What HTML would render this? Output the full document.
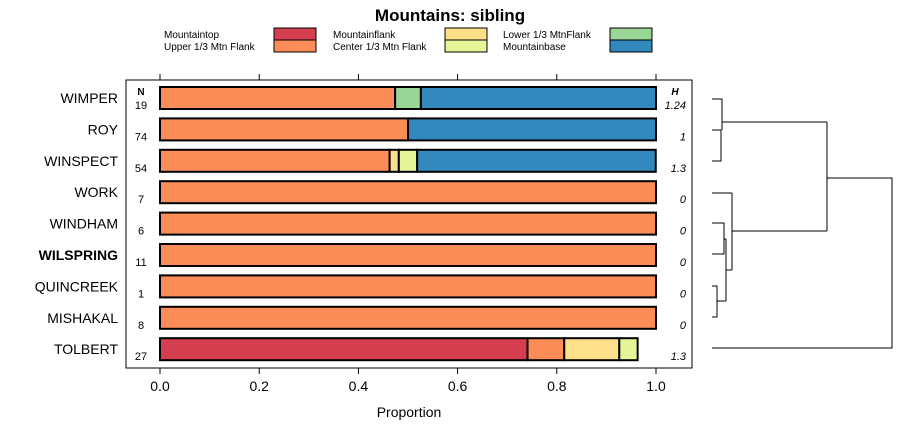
<!DOCTYPE html>
<html><head><meta charset="utf-8"><style>
body{margin:0;background:#fff;}
svg{display:block;font-family:"Liberation Sans",sans-serif;}
</style></head><body>
<svg id="c" width="900" height="440">
<text x="450" y="21" text-anchor="middle" font-size="17" font-weight="bold">Mountains: sibling</text>
<g id="legend"></g>
<rect x="126" y="80" width="566" height="288" fill="none" stroke="#000" stroke-width="1"/>
<text x="141" y="95" font-size="10" font-weight="bold" text-anchor="middle">N</text>
<text x="675" y="95" font-size="10" font-weight="bold" font-style="italic" text-anchor="middle">H</text>
<g id="bars"></g>
<g id="axis"></g>
<text x="409" y="417" font-size="14" text-anchor="middle">Proportion</text>
<g id="dendro" fill="none" stroke="#000" stroke-width="1">
<path d="M712 99H722V130M712 130H721V161H712M722 122H827M712 193H732M712 223H724V254H712M724 239H726M712 286H717V317H712M717 301H726M726 239V301M726 270H732M732 193V270M732 231H827M827 122V231M827 178H892V348H712"/>
</g>
</svg>
<script>
const categories=["WIMPER","ROY","WINSPECT","WORK","WINDHAM","WILSPRING","QUINCREEK","MISHAKAL","TOLBERT"];
const nValues=[19,74,54,7,6,11,1,8,27];
const hValues=["1.24","1","1.3","0","0","0","0","0","1.3"];
const seriesNames=["Mountaintop","Upper 1/3 Mtn Flank","Mountainflank","Center 1/3 Mtn Flank","Lower 1/3 MtnFlank","Mountainbase"];
const seriesColors=["#d53e4f","#fc8d59","#fee08b","#e6f598","#99d594","#3288bd"];
const mountaintop=[0,0,0,0,0,0,0,0,0.741];
const upperFlank=[0.474,0.5,0.463,1,1,1,1,1,0.074];
const mountainflank=[0,0,0.0185,0,0,0,0,0,0.111];
const centerFlank=[0,0,0.037,0,0,0,0,0,0.037];
const lowerFlank=[0.052,0,0,0,0,0,0,0,0];
const mountainbase=[0.474,0.5,0.481,0,0,0,0,0,0];
const series=[mountaintop,upperFlank,mountainflank,centerFlank,lowerFlank,mountainbase];
const ticks=[0,0.2,0.4,0.6,0.8,1.0];
const tickLabels=["0.0","0.2","0.4","0.6","0.8","1.0"];
const NS="http://www.w3.org/2000/svg";
const xs=v=>160+v*496;
const ys=i=>98+i*31.4;
function mk(t,a,p){const e=document.createElementNS(NS,t);for(const k in a)e.setAttribute(k,a[k]);p.appendChild(e);return e;}
const bars=document.getElementById('bars');
categories.forEach((c,i)=>{
  const y=ys(i);
  const lab=mk('text',{x:118,y:y+5,'font-size':14,'text-anchor':'end','font-weight':c==='WILSPRING'?'bold':'normal'},bars);
  lab.textContent=c;
  
  
  const n=mk('text',{x:141,y:y+11,'font-size':11,'text-anchor':'middle'},bars);
  n.textContent=nValues[i];
  
  
  const h=mk('text',{x:686,y:y+11,'font-size':11,'font-style':'italic','text-anchor':'end'},bars);
  h.textContent=hValues[i];
  
  
  let cum=0;
  series.forEach((s,k)=>{
    const v=s[i];if(v<=0)return;
    const r=mk('rect',{x:xs(cum),y:y-11,width:v*496,height:22,fill:seriesColors[k],stroke:'#000','stroke-width':2},bars);
    
    
    cum+=v;
  });
});
const ax=document.getElementById('axis');
ticks.forEach((t,i)=>{
  const x=xs(t);
  mk('line',{x1:x,x2:x,y1:368,y2:374,stroke:'#000'},ax);
  mk('line',{x1:x,x2:x,y1:74,y2:80,stroke:'#000'},ax);
  const l=mk('text',{x:x,y:391,'font-size':14,'text-anchor':'middle'},ax);
  l.textContent=tickLabels[i];
  
  
});
const lg=document.getElementById('legend');
const lx=[164,333,503],sx=[274,445,610];
seriesNames.forEach((nm,k)=>{
  const col=Math.floor(k/2),row=k%2;
  const t=mk('text',{x:lx[col],y:38+row*12,'font-size':10},lg);
  t.textContent=nm;
  
  
  const r=mk('rect',{x:sx[col],y:28+row*12,width:42,height:12,fill:seriesColors[k],stroke:'#000','stroke-width':1},lg);
  
  
});
</script>
</body></html>
